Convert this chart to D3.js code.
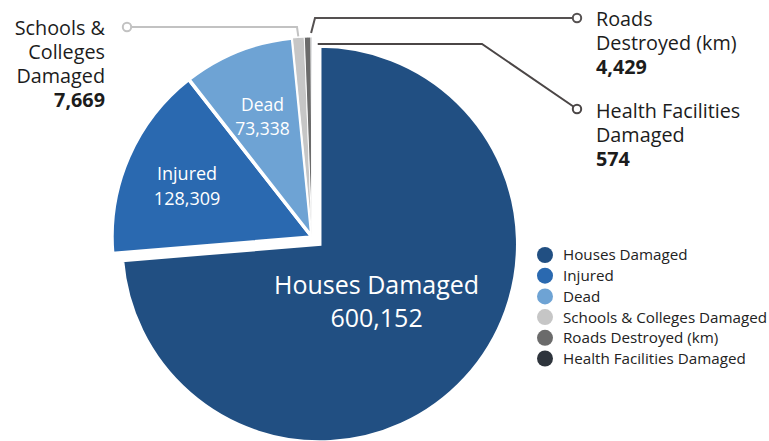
<!DOCTYPE html>
<html>
<head>
<meta charset="utf-8">
<script src="https://cdn.jsdelivr.net/npm/d3@7"></script>
<style>
  html, body { margin: 0; padding: 0; background: #fff; }
  svg { display: block; font-family: "Open Sans", "Noto Sans", sans-serif; }
</style>
</head>
<body>
<svg id="chart" width="769" height="441"></svg>
<script>
// Flood damage summary
const categories = [
  "Houses Damaged",
  "Injured",
  "Dead",
  "Schools & Colleges Damaged",
  "Roads Destroyed (km)",
  "Health Facilities Damaged"
];
const values = [600152, 128309, 73338, 7669, 4429, 574];

// Multi-line captions used for the labels (inside or outside the pie)
const captions = [
  ["Houses Damaged"],
  ["Injured"],
  ["Dead"],
  ["Schools &", "Colleges", "Damaged"],
  ["Roads", "Destroyed (km)"],
  ["Health Facilities", "Damaged"]
];

const palette = ["#214f82", "#2a69b0", "#6ea3d4", "#c6c6c6", "#6b6b6b", "#2e343c"];

const data = categories.map((c, i) => ({ name: c, value: values[i], caption: captions[i] }));

const svg = d3.select("#chart");
const cx = 312, cy = 237, radius = 200;
const mainRadius = 198;   // the pulled-out largest slice
const explode = 10.5;

const color = d3.scaleOrdinal().domain(categories).range(palette);
const fmt = d3.format(",");

const pie = d3.pie().sort(null).value(d => d.value).startAngle(0).endAngle(2 * Math.PI);
const arcs = pie(data);
const arc = d3.arc().innerRadius(0).outerRadius(d => d.index === 0 ? mainRadius : radius);

// polar helper: angle measured clockwise from 12 o'clock
const polar = (a, r) => [Math.sin(a) * r, -Math.cos(a) * r];

const offsetOf = d => {
  if (d.index !== 0) return [0, 0];
  const mid = (d.startAngle + d.endAngle) / 2;
  return polar(mid, explode);
};

const pieG = svg.append("g").attr("transform", `translate(${cx},${cy})`);

pieG.selectAll("path.slice")
  .data(arcs)
  .join("path")
  .attr("class", "slice")
  .attr("transform", d => `translate(${offsetOf(d)})`)
  .attr("d", arc)
  .attr("fill", d => color(d.data.name))
  .attr("stroke", "#fff")
  .attr("stroke-width", d => d.index < 3 ? 3.5 : 1)
  .attr("stroke-linejoin", "miter");

// Labels inside the three large slices
const innerLabel = [
  { r: 80, size: 25, dy: [-4, 29], dx: -2 },
  { r: 132, size: 18, dy: [-4, 21], dx: -4 },
  { r: 128, size: 17.5, dy: [-7, 17], dx: -2 }
];
arcs.slice(0, 3).forEach((d, i) => {
  const cfg = innerLabel[i];
  const mid = (d.startAngle + d.endAngle) / 2;
  const off = offsetOf(d);
  const [px, py] = polar(mid, cfg.r);
  const g = pieG.append("g")
    .attr("transform", `translate(${px + off[0] + cfg.dx},${py + off[1]})`);
  g.append("text")
    .attr("text-anchor", "middle")
    .attr("y", cfg.dy[0])
    .attr("fill", "#fff")
    .attr("font-size", cfg.size)
    .text(d.data.caption[0]);
  g.append("text")
    .attr("text-anchor", "middle")
    .attr("y", cfg.dy[1])
    .attr("fill", "#fff")
    .attr("font-size", cfg.size)
    .text(fmt(d.data.value));
});

// Leader lines and callouts for the three thin slices
const callouts = [
  { idx: 3, stroke: "#c2c2c2", angle: "mid", startR: radius + 1,
    bends: [[297, 27]], end: [127, 27], anchor: "end", tx: 105, ty: 35 },
  { idx: 4, stroke: "#555151", angle: "end", startR: radius + 4,
    bends: [[315, 18]], end: [577, 18], anchor: "start", tx: 596, ty: 26 },
  { idx: 5, stroke: "#4b4646", angle: "main",
    bends: [[482, 44]], end: [577, 109], anchor: "start", tx: 596, ty: 118 }
];
const lineStep = 24;

callouts.forEach(c => {
  const d = arcs[c.idx];
  let start;
  if (c.angle === "main") {
    // runs along the top of the pulled-out slice
    const off = offsetOf(arcs[0]);
    start = [cx + off[0] - 2, c.bends[0][1]];
  } else {
    const a = c.angle === "end" ? d.endAngle : (d.startAngle + d.endAngle) / 2;
    const [sx, sy] = polar(a, c.startR);
    start = [cx + sx, cy + sy];
  }
  const pts = [start, ...c.bends, c.end];
  svg.append("path")
    .attr("d", d3.line()(pts))
    .attr("fill", "none")
    .attr("stroke", c.stroke)
    .attr("stroke-width", 2);
  svg.append("circle")
    .attr("cx", c.end[0]).attr("cy", c.end[1]).attr("r", 4.2)
    .attr("fill", "#fff")
    .attr("stroke", c.stroke)
    .attr("stroke-width", 2);
  const t = svg.append("text")
    .attr("text-anchor", c.anchor)
    .attr("font-size", 19.8)
    .attr("fill", "#1c1c1c");
  d.data.caption.forEach((line, k) => {
    t.append("tspan").attr("x", c.tx).attr("y", c.ty + k * lineStep).text(line);
  });
  t.append("tspan")
    .attr("x", c.tx)
    .attr("y", c.ty + d.data.caption.length * lineStep)
    .attr("font-weight", 700)
    .text(fmt(d.data.value));
});

// Legend
const legend = svg.append("g").attr("transform", "translate(545,255)");
const rows = legend.selectAll("g")
  .data(categories)
  .join("g")
  .attr("transform", (d, i) => `translate(0,${i * 20.7})`);
rows.append("circle").attr("r", 8).attr("fill", d => color(d));
rows.append("text")
  .attr("x", 18)
  .attr("dy", "0.36em")
  .attr("font-size", 15.2)
  .attr("fill", "#222")
  .text(d => d);
</script>
</body>
</html>
